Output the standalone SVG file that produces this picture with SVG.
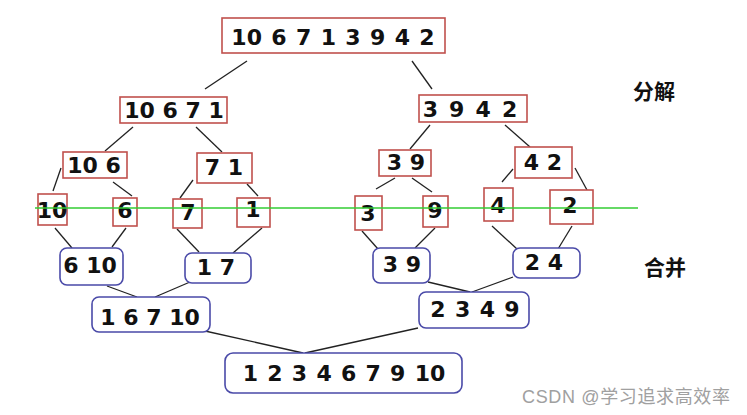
<svg xmlns="http://www.w3.org/2000/svg" width="747" height="415" viewBox="0 0 747 415">
<style>
.r{fill:#fff;stroke:#c0504d;stroke-width:1.6}
.b{fill:#fff;stroke:#4a4aa8;stroke-width:1.6}
.t{font-family:"DejaVu Sans",Verdana,sans-serif;font-weight:bold;font-size:22px;fill:#111;text-anchor:middle}
.c{stroke:#222;stroke-width:1.3;fill:none}
.zh{font-family:"Noto Sans CJK SC",sans-serif;font-weight:bold;font-size:21px;fill:#111;text-anchor:middle}
.wm{font-family:"Liberation Sans","Noto Sans CJK SC",sans-serif;font-size:18px;fill:#a0a0a0}
</style>
<rect width="747" height="415" fill="#fff"/>
<g id="connectors">
<line class="c" x1="247" y1="61" x2="205" y2="89"/>
<line class="c" x1="412" y1="61" x2="432" y2="89"/>
<line class="c" x1="133" y1="127" x2="105" y2="151"/>
<line class="c" x1="196" y1="127" x2="222" y2="152"/>
<line class="c" x1="61" y1="168" x2="53" y2="191"/>
<line class="c" x1="113" y1="182" x2="132" y2="196"/>
<line class="c" x1="193" y1="180" x2="180" y2="198"/>
<line class="c" x1="247" y1="184" x2="258" y2="196"/>
<line class="c" x1="430" y1="125" x2="410" y2="149"/>
<line class="c" x1="505" y1="125" x2="530" y2="147"/>
<line class="c" x1="395" y1="178" x2="376" y2="189"/>
<line class="c" x1="412" y1="178" x2="432" y2="192"/>
<line class="c" x1="513" y1="169" x2="502" y2="182"/>
<line class="c" x1="575" y1="168" x2="587" y2="190"/>
<line class="c" x1="55" y1="228" x2="72" y2="248"/>
<line class="c" x1="126" y1="228" x2="112" y2="247"/>
<line class="c" x1="177" y1="229" x2="199" y2="252"/>
<line class="c" x1="262" y1="228" x2="233" y2="253"/>
<line class="c" x1="362" y1="231" x2="378" y2="249"/>
<line class="c" x1="435" y1="228" x2="415" y2="248"/>
<line class="c" x1="492" y1="226" x2="517" y2="249"/>
<line class="c" x1="572" y1="226" x2="558" y2="249"/>
<line class="c" x1="107" y1="286" x2="137" y2="297"/>
<line class="c" x1="190" y1="282" x2="155" y2="297"/>
<line class="c" x1="428" y1="282" x2="470" y2="292"/>
<line class="c" x1="513" y1="277" x2="472" y2="292"/>
<line class="c" x1="205" y1="331" x2="303" y2="353"/>
<line class="c" x1="418" y1="328" x2="305" y2="353"/>
</g>
<g id="n-top"><rect class="r" x="222" y="18" width="223" height="35"/><text class="t" x="333" y="45" word-spacing="1.7">10 6 7 1 3 9 4 2</text></g>
<g id="n-10671"><rect class="r" x="120" y="97" width="107" height="26"/><text class="t" x="174" y="118">10 6 7 1</text></g>
<g id="n-3942"><rect class="r" x="419" y="95" width="108" height="27"/><text class="t" x="470" y="117" word-spacing="3.5">3 9 4 2</text></g>
<g id="n-106"><rect class="r" x="63" y="152" width="64" height="26"/><text class="t" x="94" y="173">10 6</text></g>
<g id="n-71"><rect class="r" x="197" y="153" width="55" height="30"/><text class="t" x="224" y="175">7 1</text></g>
<g id="n-39"><rect class="r" x="379" y="150" width="52" height="26"/><text class="t" x="406" y="170">3 9</text></g>
<g id="n-42"><rect class="r" x="515" y="147" width="57" height="31"/><text class="t" x="543" y="170">4 2</text></g>
<g id="n-10"><rect class="r" x="38" y="194" width="29" height="31"/><text class="t" x="52" y="218">10</text></g>
<g id="n-6"><rect class="r" x="113" y="198" width="24" height="28"/><text class="t" x="125" y="218">6</text></g>
<g id="n-7"><rect class="r" x="173" y="199" width="29" height="29"/><text class="t" x="188" y="220">7</text></g>
<g id="n-1"><rect class="r" x="237" y="198" width="33" height="29"/><text class="t" x="253" y="217">1</text></g>
<g id="n-3"><rect class="r" x="355" y="196" width="27" height="34"/><text class="t" x="368" y="221">3</text></g>
<g id="n-9"><rect class="r" x="423" y="196" width="25" height="31"/><text class="t" x="435" y="218">9</text></g>
<g id="n-4"><rect class="r" x="484" y="188" width="29" height="33"/><text class="t" x="498" y="213">4</text></g>
<g id="n-2"><rect class="r" x="550" y="190" width="43" height="34"/><text class="t" x="570" y="213">2</text></g>
<g id="m-610"><rect class="b" x="60" y="248" width="63" height="37" rx="7"/><text class="t" x="90" y="273">6 10</text></g>
<g id="m-17"><rect class="b" x="185" y="253" width="66" height="30" rx="7"/><text class="t" x="216" y="275">1 7</text></g>
<g id="m-39"><rect class="b" x="373" y="248" width="57" height="35" rx="7"/><text class="t" x="402" y="272">3 9</text></g>
<g id="m-24"><rect class="b" x="513" y="248" width="67" height="30" rx="7"/><text class="t" x="544" y="270">2 4</text></g>
<g id="m-16710"><rect class="b" x="92" y="297" width="118" height="35" rx="7"/><text class="t" x="150" y="325">1 6 7 10</text></g>
<g id="m-2349"><rect class="b" x="419" y="292" width="110" height="36" rx="7"/><text class="t" x="475" y="317" word-spacing="1.7">2 3 4 9</text></g>
<g id="m-final"><rect class="b" x="225" y="353" width="237" height="40" rx="8"/><text class="t" x="344" y="381" word-spacing="1.6">1 2 3 4 6 7 9 10</text></g>
<line x1="35" y1="208" x2="638" y2="208" stroke="#33cc33" stroke-width="1.5"/>
<text class="zh" x="654" y="99">分解</text>
<text class="zh" x="665" y="275">合并</text>
<text class="wm" x="522" y="403" textLength="208">CSDN @学习追求高效率</text>
</svg>
